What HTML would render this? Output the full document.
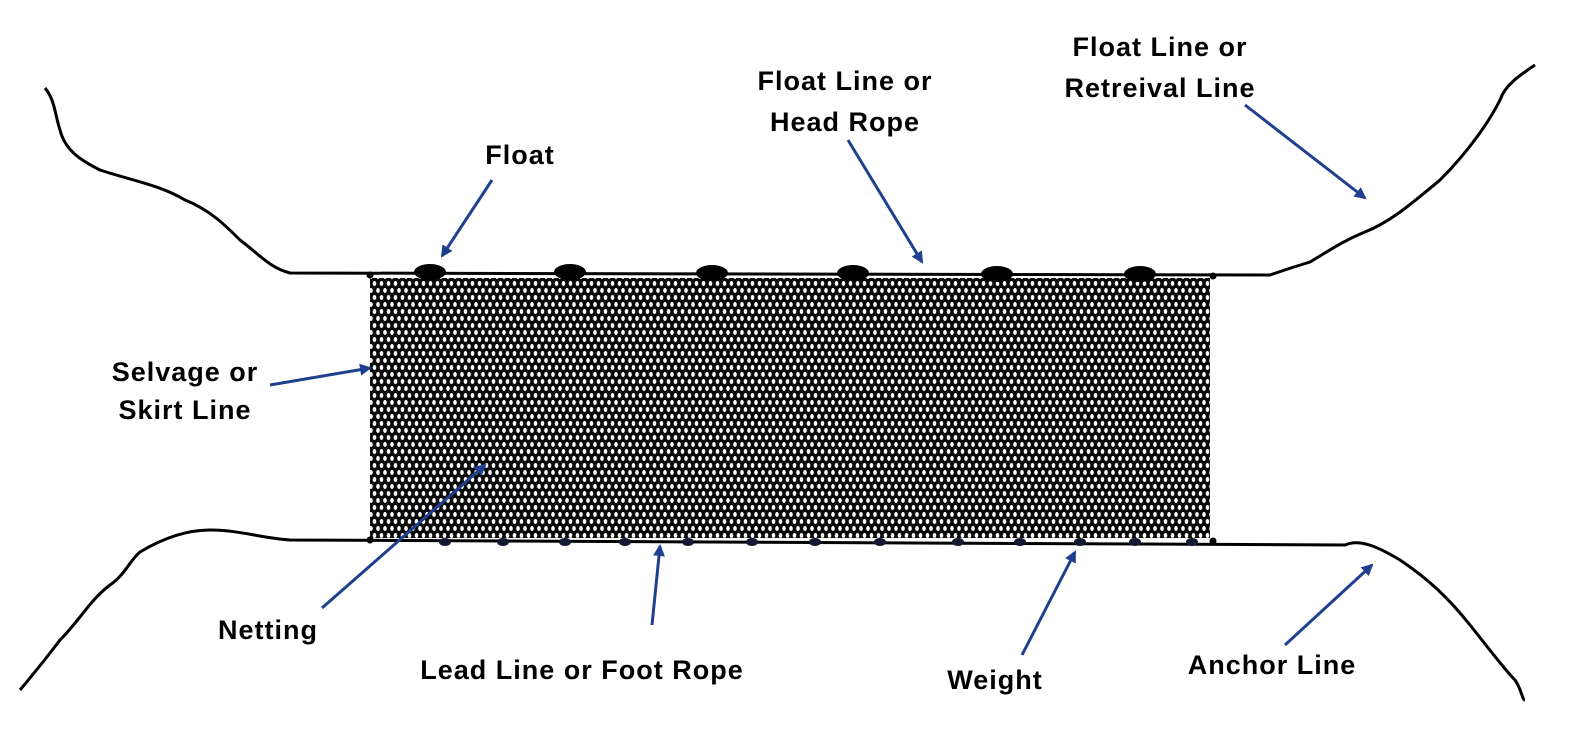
<!DOCTYPE html>
<html><head><meta charset="utf-8"><style>
html,body{margin:0;padding:0;background:#fff}
svg{display:block}
text{font-family:"Liberation Sans Narrow","Liberation Sans",sans-serif;font-weight:bold;font-size:27px;fill:#000;text-anchor:middle;letter-spacing:1px}
</style></head><body>
<svg width="1575" height="750" viewBox="0 0 1575 750" xmlns="http://www.w3.org/2000/svg">
<defs>
<pattern id="net" width="7" height="14" patternUnits="userSpaceOnUse">
<rect width="7" height="14" fill="#0a0a0a"/>
<ellipse cx="3.5" cy="3.5" rx="1.8" ry="2.5" fill="#fff"/>
<ellipse cx="0" cy="10.5" rx="1.8" ry="2.5" fill="#fff"/>
<ellipse cx="7" cy="10.5" rx="1.8" ry="2.5" fill="#fff"/>
</pattern>
<marker id="ah" markerWidth="12" markerHeight="12" refX="10" refY="6" orient="auto" markerUnits="userSpaceOnUse">
<path d="M0,0 L12,6 L0,12 z" fill="#1f3f8f"/>
</marker>
</defs>
<rect x="370" y="278" width="840" height="260" fill="url(#net)"/>
<g fill="none" stroke="#000" stroke-width="3" stroke-linejoin="round">
<path d="M45,88 C55,100 55,115 60,130 C65,150 80,160 100,170 C130,180 160,185 185,200 C210,210 225,225 240,240 C260,255 270,268 290,273 L1270,275 C1290,268 1300,265 1310,262 C1330,250 1345,240 1365,232 C1390,222 1410,205 1440,180 C1470,150 1490,120 1500,100 C1505,85 1520,75 1535,65"/>
<path d="M20,690 C35,672 45,660 60,640 C80,620 90,600 110,585 C125,575 130,560 140,552 C160,540 185,530 210,530 C240,530 260,538 290,540 L1345,545 C1360,538 1380,548 1400,560 C1430,580 1450,600 1470,625 C1490,650 1505,670 1515,680 C1522,690 1522,700 1525,700"/>
</g>
<g fill="#000">
<circle cx="370" cy="275" r="3.5"/><circle cx="1213" cy="276" r="3.5"/>
<circle cx="370" cy="540" r="3.5"/><circle cx="1213" cy="541" r="3.5"/>
<ellipse cx="430" cy="272" rx="16" ry="8"/>
<ellipse cx="570" cy="272" rx="16" ry="8"/>
<ellipse cx="712" cy="273" rx="16" ry="8"/>
<ellipse cx="853" cy="273" rx="16" ry="8"/>
<ellipse cx="997" cy="274" rx="16" ry="8"/>
<ellipse cx="1140" cy="274" rx="16" ry="8"/>
</g>
<g fill="#111a30">
<ellipse cx="445" cy="542" rx="6" ry="4"/><ellipse cx="503" cy="542" rx="6" ry="4"/>
<ellipse cx="565" cy="542" rx="6" ry="4"/><ellipse cx="625" cy="542" rx="6" ry="4"/>
<ellipse cx="688" cy="542" rx="6" ry="4"/><ellipse cx="752" cy="542" rx="6" ry="4"/>
<ellipse cx="815" cy="542" rx="6" ry="4"/><ellipse cx="880" cy="542" rx="6" ry="4"/>
<ellipse cx="958" cy="542" rx="6" ry="4"/><ellipse cx="1020" cy="542" rx="6" ry="4"/>
<ellipse cx="1080" cy="542" rx="6" ry="4"/><ellipse cx="1135" cy="542" rx="6" ry="4"/>
<ellipse cx="1192" cy="542" rx="6" ry="4"/>
</g>
<g stroke="#1f3f8f" stroke-width="3" marker-end="url(#ah)">
<line x1="492" y1="180" x2="442" y2="256"/>
<line x1="848" y1="140" x2="922" y2="262"/>
<line x1="1245" y1="105" x2="1365" y2="198"/>
<line x1="270" y1="385" x2="370" y2="368"/>
<line x1="322" y1="608" x2="485" y2="465"/>
<line x1="652" y1="625" x2="660" y2="546"/>
<line x1="1022" y1="655" x2="1075" y2="552"/>
<line x1="1285" y1="645" x2="1372" y2="565"/>
</g>
<text x="520" y="164">Float</text>
<text x="845" y="90">Float Line or</text>
<text x="845" y="131">Head Rope</text>
<text x="1160" y="56">Float Line or</text>
<text x="1160" y="97">Retreival Line</text>
<text x="185" y="381">Selvage or</text>
<text x="185" y="419">Skirt Line</text>
<text x="268" y="639">Netting</text>
<text x="582" y="679">Lead Line or Foot Rope</text>
<text x="995" y="689">Weight</text>
<text x="1272" y="674">Anchor Line</text>
</svg>
</body></html>
